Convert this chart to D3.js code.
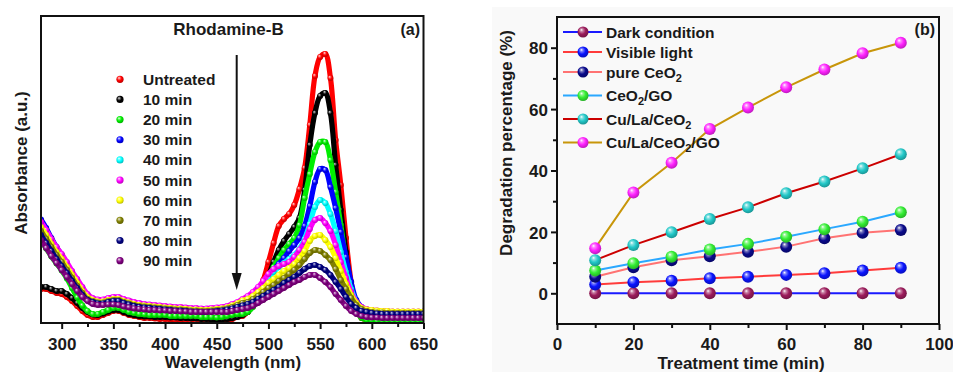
<!DOCTYPE html>
<html>
<head>
<meta charset="utf-8">
<script src="https://cdn.jsdelivr.net/npm/d3@7"></script>
<style>
  body { margin: 0; background: #fff; }
  svg { display: block; }
  text { font-family: "Liberation Sans", Arial, sans-serif; font-weight: bold; fill: #1a1a1a; }
</style>
</head>
<body>
<svg id="chart" width="953" height="372"></svg>
<script>
// ---------- (a) UV-vis spectra of Rhodamine-B, 280–650 nm every 5 nm ----------
const wavelengths = d3.range(280, 651, 5);

const absUntreated = [.34,.34,.32,.30,.29,.26,.22,.17,.12,.08,
  .06,.06,.08,.10,.12,.12,.10,.08,.07,.06,
  .05,.05,.045,.04,.04,.035,.03,.03,.025,.02,
  .02,.015,.015,.015,.015,.02,.025,.04,.06,.07,
  .11,.18,.31,.43,.61,.80,.97,1.04,1.09,1.18,
  1.34,1.55,1.98,2.47,2.66,2.69,2.45,1.83,1.38,.85,
  .41,.15,.05,.03,.02,.015,.015,.01,.01,.01,
  .01,.01,.01,.01,.01];
const abs10 = [.36,.36,.34,.32,.32,.29,.25,.20,.15,.11,
  .085,.08,.095,.115,.13,.13,.11,.09,.08,.07,
  .065,.065,.06,.06,.06,.055,.055,.05,.05,.045,
  .045,.04,.04,.035,.035,.035,.04,.05,.06,.08,
  .11,.17,.25,.35,.47,.61,.73,.82,.89,.96,
  1.05,1.33,1.78,2.10,2.27,2.30,2.10,1.58,1.13,.71,
  .36,.15,.06,.04,.03,.025,.025,.025,.025,.025,
  .025,.025,.025,.025,.025];
const abs20 = [.825,.745,.665,.595,.525,.445,.35,.255,.175,.12,
  .09,.09,.11,.13,.15,.15,.13,.11,.10,.09,
  .085,.08,.08,.08,.08,.07,.07,.07,.07,.07,
  .07,.06,.06,.06,.055,.06,.07,.08,.09,.09,
  .11,.16,.24,.34,.45,.56,.65,.73,.79,.85,
  .98,1.25,1.49,1.71,1.81,1.81,1.63,1.31,.98,.61,
  .31,.13,.05,.03,.025,.02,.02,.02,.02,.02,
  .02,.02,.02,.02,.02];
const abs30 = [1.035,.95,.85,.76,.68,.59,.50,.42,.34,.27,
  .22,.205,.205,.22,.23,.23,.21,.195,.18,.17,
  .16,.155,.15,.145,.14,.135,.13,.13,.125,.12,
  .12,.115,.115,.12,.125,.13,.14,.16,.18,.21,
  .23,.27,.32,.38,.46,.53,.59,.65,.72,.78,
  .85,.97,1.17,1.41,1.54,1.53,1.36,1.15,.91,.66,
  .41,.23,.16,.13,.12,.11,.105,.105,.10,.10,
  .10,.10,.10,.10,.10];
const abs40 = [1.00,.92,.83,.75,.68,.60,.51,.43,.35,.28,
  .23,.215,.215,.23,.24,.24,.22,.205,.19,.18,
  .17,.165,.16,.155,.15,.145,.14,.14,.135,.13,
  .13,.125,.125,.13,.135,.14,.15,.17,.19,.22,
  .24,.28,.33,.39,.45,.51,.56,.60,.64,.68,
  .74,.84,.99,1.16,1.23,1.20,1.09,.92,.71,.51,
  .34,.21,.15,.13,.12,.115,.115,.11,.11,.11,
  .11,.11,.11,.11,.11];
const abs50 = [1.01,.93,.84,.76,.69,.61,.52,.44,.36,.29,
  .25,.235,.235,.25,.26,.26,.24,.225,.21,.20,
  .19,.185,.18,.175,.17,.165,.16,.16,.155,.15,
  .15,.145,.145,.15,.155,.16,.17,.19,.21,.24,
  .27,.31,.36,.42,.49,.54,.57,.59,.61,.66,
  .73,.81,.94,1.03,1.05,1.00,.92,.78,.61,.45,
  .31,.21,.16,.14,.13,.125,.12,.12,.115,.115,
  .115,.115,.115,.115,.115];
const abs60 = [.96,.88,.79,.71,.64,.56,.48,.40,.32,.26,
  .23,.215,.215,.23,.24,.24,.22,.205,.19,.18,
  .175,.17,.165,.16,.155,.15,.145,.145,.14,.135,
  .135,.13,.13,.135,.14,.145,.155,.175,.195,.225,
  .24,.27,.31,.35,.40,.44,.48,.52,.55,.59,
  .65,.72,.82,.87,.88,.83,.76,.65,.52,.39,
  .28,.20,.15,.135,.13,.125,.12,.12,.115,.115,
  .115,.115,.115,.115,.115];
const abs70 = [.92,.84,.76,.68,.61,.53,.45,.37,.30,.24,
  .22,.205,.205,.22,.23,.23,.21,.195,.18,.17,
  .165,.16,.155,.15,.145,.14,.135,.135,.13,.125,
  .125,.12,.12,.125,.13,.135,.145,.16,.18,.20,
  .21,.24,.27,.31,.35,.38,.42,.45,.49,.53,
  .58,.64,.70,.73,.72,.68,.63,.54,.43,.34,
  .25,.18,.14,.12,.11,.105,.105,.10,.10,.10,
  .10,.10,.10,.10,.10];
const abs80 = [.88,.80,.72,.64,.57,.50,.42,.35,.28,.23,
  .21,.195,.195,.21,.22,.22,.20,.185,.17,.16,
  .155,.15,.145,.14,.135,.13,.125,.125,.12,.115,
  .115,.11,.11,.115,.12,.125,.135,.145,.16,.175,
  .19,.21,.24,.27,.30,.33,.36,.40,.43,.46,
  .50,.54,.57,.58,.56,.53,.48,.41,.34,.26,
  .19,.15,.12,.11,.10,.095,.09,.09,.09,.09,
  .09,.09,.09,.09,.09];
const abs90 = [.83,.75,.67,.60,.53,.46,.39,.32,.26,.22,
  .19,.18,.18,.185,.185,.18,.165,.155,.145,.14,
  .135,.13,.13,.125,.125,.12,.12,.115,.115,.11,
  .11,.11,.11,.11,.11,.11,.11,.12,.13,.14,
  .15,.17,.20,.23,.26,.29,.32,.35,.38,.41,
  .43,.46,.48,.48,.45,.41,.36,.29,.23,.17,
  .12,.09,.07,.06,.055,.055,.05,.05,.05,.05,
  .05,.05,.05,.05,.05];

const spectraLabels = ["Untreated","10 min","20 min","30 min","40 min","50 min","60 min","70 min","80 min","90 min"];
const spectraColors = ["#ff0000","#000000","#00ee00","#0000ff","#00ffff","#ff00ff","#ffff00","#808000","#000080","#800080"];
const spectraValues = [absUntreated, abs10, abs20, abs30, abs40, abs50, abs60, abs70, abs80, abs90];
const wavelengthTicks = [300,350,400,450,500,550,600,650];

// ---------- (b) Degradation percentage vs treatment time ----------
const times = [10,20,30,40,50,60,70,80,90];
const darkCondition = [0,0,0,0,0,0,0,0,0];
const visibleLight = [2.9,3.6,4.1,4.9,5.4,6.0,6.5,7.4,8.3];
const pureCeO2 = [5.4,8.5,10.8,12.1,13.5,15.2,17.9,19.7,20.6];
const ceo2GO = [7.4,9.8,11.9,14.3,16.1,18.4,20.9,23.3,26.4];
const cuLaCeO2 = [10.8,15.7,19.9,24.2,28.0,32.6,36.4,40.7,45.3];
const cuLaCeO2GO = [14.7,32.8,42.5,53.5,60.5,67.1,72.9,78.2,81.6];
// label parts: [text, subscript?]
const degLabels = [
  [["Dark condition", false]],
  [["Visible light", false]],
  [["pure CeO", false], ["2", true]],
  [["CeO", false], ["2", true], ["/GO", false]],
  [["Cu/La/CeO", false], ["2", true]],
  [["Cu/La/CeO", false], ["2", true], ["/GO", false]]
];
const degLineColors = ["#1a1aff","#ff3b3b","#ff7373","#2aa8ff","#cc0000","#c8960a"];
const degMarkerColors = ["#9c1c5c","#0a14ff","#0a0a8c","#33ee33","#22c8c8","#ff22ff"];
const degValues = [darkCondition, visibleLight, pureCeO2, ceo2GO, cuLaCeO2, cuLaCeO2GO];
const timeTicks = [0,20,40,60,80,100];
const percentTicks = [0,20,40,60,80];

const svg = d3.select("#chart");
const defs = svg.append("defs");

// shaded-ball fill for a given colour
function ball(color) {
  const id = "ball" + color.replace("#", "");
  if (defs.select("#" + id).empty()) {
    const g = defs.append("radialGradient").attr("id", id)
      .attr("cx", "45%").attr("cy", "42%").attr("r", "60%")
      .attr("fx", "35%").attr("fy", "30%");
    g.append("stop").attr("offset", "0%").attr("stop-color", "#ffffff");
    g.append("stop").attr("offset", "22%").attr("stop-color", d3.interpolateRgb("#ffffff", color)(0.55));
    g.append("stop").attr("offset", "55%").attr("stop-color", color);
    g.append("stop").attr("offset", "100%").attr("stop-color", d3.color(color).darker(0.9).formatHex());
  }
  return `url(#${id})`;
}

svg.append("rect").attr("width", 953).attr("height", 372).attr("fill", "#ffffff");
svg.append("rect").attr("x", 492).attr("y", 7).attr("width", 461).attr("height", 365).attr("fill", "#f9f9f9");

// ================= panel (a) =================
const xA = d3.scaleLinear().domain([280, 650]).range([41, 423.5]);
const yA = d3.scaleLinear().domain([0, 3.07]).range([323, 16]);

defs.append("clipPath").attr("id", "clipA").append("rect")
  .attr("x", 41).attr("y", 16).attr("width", 382.5).attr("height", 307);

const gA = svg.append("g");
const plotA = gA.append("g").attr("clip-path", "url(#clipA)");
const lineA = d3.line().x((d, i) => xA(wavelengths[i])).y(d => yA(d)).curve(d3.curveCatmullRom.alpha(0.5));

spectraValues.forEach((vals, k) => {
  const s = plotA.append("g");
  s.append("path").attr("d", lineA(vals)).attr("fill", "none")
    .attr("stroke", spectraColors[k]).attr("stroke-width", 5.2).attr("stroke-linejoin", "round");
  s.selectAll("circle").data(vals).join("circle")
    .attr("cx", (d, i) => xA(wavelengths[i])).attr("cy", d => yA(d))
    .attr("r", 3).attr("fill", ball(spectraColors[k]));
});

// axes (a)
const axA = gA.append("g").attr("transform", "translate(0,323)")
  .call(d3.axisBottom(xA).tickValues(wavelengthTicks).tickSize(6).tickFormat(d3.format("d")));
gA.append("g").attr("transform", "translate(0,323)")
  .call(d3.axisBottom(xA).tickValues(d3.range(325, 650, 50)).tickSize(4).tickFormat(""))
  .call(g => g.select(".domain").remove());
axA.selectAll("text").attr("y", 27).attr("dy", null).style("font-size", "17px").style("font-family", "'Liberation Sans', Arial, sans-serif").style("font-weight", "bold").attr("fill", "#1a1a1a");
gA.selectAll(".tick line").attr("stroke", "#111").attr("stroke-width", 2);
axA.select(".domain").remove();

gA.append("rect").attr("x", 41).attr("y", 16).attr("width", 382.5).attr("height", 307)
  .attr("fill", "none").attr("stroke", "#111").attr("stroke-width", 2);

gA.append("text").attr("x", 233).attr("y", 367.5).attr("text-anchor", "middle")
  .style("font-size", "17px").text("Wavelength (nm)");
gA.append("text").attr("transform", "translate(27,163) rotate(-90)").attr("text-anchor", "middle")
  .style("font-size", "17px").text("Absorbance (a.u.)");
gA.append("text").attr("x", 228.5).attr("y", 35).attr("text-anchor", "middle")
  .style("font-size", "17px").text("Rhodamine-B");
gA.append("text").attr("x", 420).attr("y", 35).attr("text-anchor", "end")
  .style("font-size", "16px").text("(a)");

// decreasing-absorbance arrow
gA.append("line").attr("x1", 236.7).attr("x2", 236.7).attr("y1", 55).attr("y2", 276)
  .attr("stroke", "#111").attr("stroke-width", 2);
gA.append("path").attr("d", "M231.7,273 L241.7,273 L236.7,290 Z").attr("fill", "#111");

// legend (a)
const legA = gA.append("g");
spectraLabels.forEach((lab, k) => {
  const y = 79.3 + k * 20.15;
  legA.append("circle").attr("cx", 120).attr("cy", y).attr("r", 3.6).attr("fill", ball(spectraColors[k]));
  legA.append("text").attr("x", 143).attr("y", y).attr("dy", "0.36em")
    .style("font-size", "15.5px").text(lab);
});

// ================= panel (b) =================
const xB = d3.scaleLinear().domain([0, 100]).range([557, 939]);
const yB = d3.scaleLinear().domain([-10, 90]).range([324, 17]);
const gB = svg.append("g");

const axBx = gB.append("g").attr("transform", "translate(0,324)")
  .call(d3.axisBottom(xB).tickValues(timeTicks).tickSize(6));
gB.append("g").attr("transform", "translate(0,324)")
  .call(d3.axisBottom(xB).tickValues(d3.range(10, 100, 20)).tickSize(4).tickFormat(""))
  .call(g => g.select(".domain").remove());
const axBy = gB.append("g").attr("transform", "translate(557,0)")
  .call(d3.axisLeft(yB).tickValues(percentTicks).tickSize(6).tickPadding(3));
gB.append("g").attr("transform", "translate(557,0)")
  .call(d3.axisLeft(yB).tickValues(d3.range(10, 90, 20)).tickSize(4).tickFormat(""))
  .call(g => g.select(".domain").remove());
axBx.selectAll("text").attr("y", 25.5).attr("dy", null);
axBy.selectAll("text").attr("dy", "0.36em");
[axBx, axBy].forEach(a => {
  a.select(".domain").remove();
  a.selectAll("text").style("font-size", "17px").style("font-family", "'Liberation Sans', Arial, sans-serif")
    .style("font-weight", "bold").attr("fill", "#1a1a1a");
});
gB.selectAll(".tick line").attr("stroke", "#111").attr("stroke-width", 2);

const lineB = d3.line().x((d, i) => xB(times[i])).y(d => yB(d));
degValues.forEach((vals, k) => {
  const s = gB.append("g");
  s.append("path").attr("d", lineB(vals)).attr("fill", "none")
    .attr("stroke", degLineColors[k]).attr("stroke-width", 2);
  s.selectAll("circle").data(vals).join("circle")
    .attr("cx", (d, i) => xB(times[i])).attr("cy", d => yB(d))
    .attr("r", 6).attr("fill", ball(degMarkerColors[k]));
});

gB.append("rect").attr("x", 557).attr("y", 17).attr("width", 382).attr("height", 307)
  .attr("fill", "none").attr("stroke", "#111").attr("stroke-width", 2);

// legend (b)
let ly = 32;
degLabels.forEach((parts, k) => {
  const lg = gB.append("g");
  lg.append("line").attr("x1", 563).attr("x2", 602).attr("y1", ly).attr("y2", ly)
    .attr("stroke", degLineColors[k]).attr("stroke-width", 2);
  lg.append("circle").attr("cx", 583).attr("cy", ly).attr("r", 5.5).attr("fill", ball(degMarkerColors[k]));
  const t = lg.append("text").attr("x", 606).attr("y", ly).attr("dy", "0.36em").style("font-size", "15.5px");
  let shifted = false;
  parts.forEach(([str, sub]) => {
    const sp = t.append("tspan").text(str);
    if (sub) { sp.attr("dy", 4).style("font-size", "11px"); shifted = true; }
    else if (shifted) { sp.attr("dy", -4); shifted = false; }
  });
  ly += parts.some(p => p[1]) ? 23.5 : 20;
});

gB.append("text").attr("x", 741).attr("y", 369).attr("text-anchor", "middle")
  .style("font-size", "17px").text("Treatment time (min)");
gB.append("text").attr("transform", "translate(512,143) rotate(-90)").attr("text-anchor", "middle")
  .style("font-size", "17px").text("Degradation percentage (%)");
gB.append("text").attr("x", 935).attr("y", 35).attr("text-anchor", "end")
  .style("font-size", "16px").text("(b)");
</script>
</body>
</html>
